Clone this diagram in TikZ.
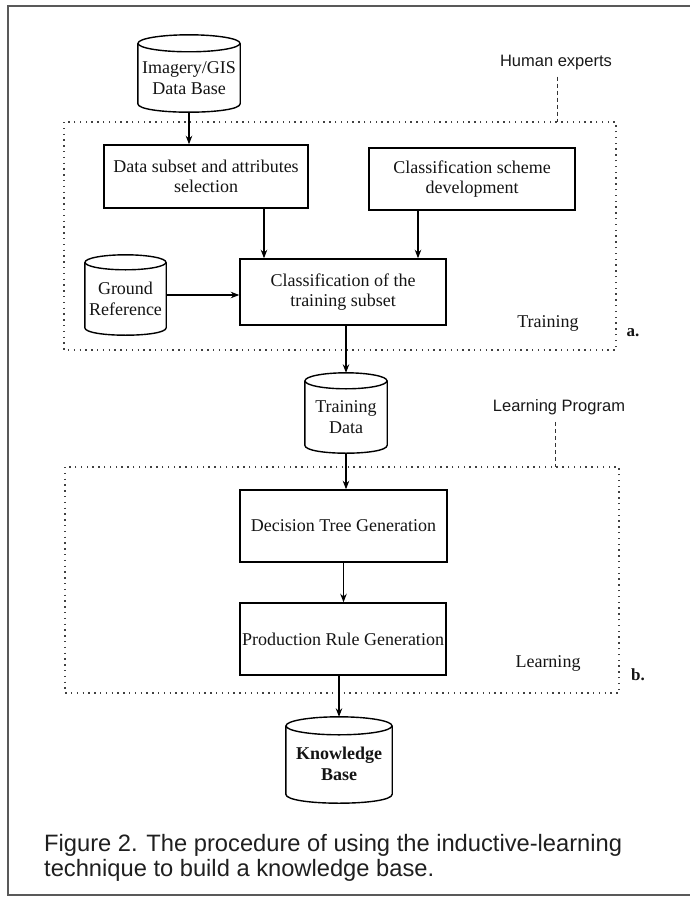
\documentclass[tikz,border=0pt]{standalone}
\usepackage{fontspec}
\setmainfont{Liberation Serif}
\newfontfamily\capfont{Liberation Sans}
\usetikzlibrary{arrows.meta,calc}
\newcommand{\cylout}[3]{% node name, half width, ry
  \draw[cylline] ($(#1.north)+(0,#3)$) ellipse [x radius=#2, y radius=#3];
  \draw[cylline] ($(#1.north west)+(0,#3)$) -- ($(#1.south west)+(0,-#3)$)
    .. controls ($(#1.south west)+(0,#3/3)$) and ($(#1.south east)+(0,#3/3)$) ..
    ($(#1.south east)+(0,-#3)$) -- ($(#1.north east)+(0,#3)$);
}
\begin{document}
\begin{tikzpicture}[x=1pt,y=-1pt,
  serif18/.style={font=\fontsize{18}{20.5}\selectfont, text=black!92},
  procbox/.style={draw, line width=1.5pt, align=center, inner sep=0pt, serif18},
  cylbody/.style={inner sep=0pt},
  cylline/.style={line width=1.4pt},
  cyltext/.style={align=center, inner sep=0pt, serif18},
  arr/.style={-{Stealth[length=8.5pt,width=6.5pt]}, line width=1.1pt},
  dotbox/.style={line width=1.6pt, dash pattern=on 1.4pt off 4.4pt, black!75},
  leader/.style={line width=0.9pt, dash pattern=on 4pt off 3pt, black!80},
  sanslabel/.style={font=\capfont\fontsize{16.5}{19}\selectfont, inner sep=0pt, text=black!90},
  sidelabel/.style={serif18, inner sep=0pt},
  frame/.style={line width=1.5pt, black!65}
]
\useasboundingbox (0,0) rectangle (690,899);

% outer frame
\draw[frame] (690,6) -- (8,6) -- (8,895) -- (690,895);

% dotted group boxes
\draw[dotbox] (64,122) rectangle (616,350);
\draw[dotbox] (65,467) rectangle (619,693);
\coordinate (hea) at (557,122);
\coordinate (lpa) at (555,467);

% cylinders
\node[cylbody, minimum width=102, minimum height=77] (img) at (189,73.5) {};
\cylout{img}{51}{8.5}
\node[cyltext] (imgt) at (189,78) {Imagery/GIS\\Data Base};

\node[cylbody, minimum width=81, minimum height=80] (gr) at (125.5,295) {};
\cylout{gr}{40.5}{7.5}
\node[cyltext] (grt) at (125.5,299) {Ground\\Reference};

\node[cylbody, minimum width=82, minimum height=80] (td) at (346,413) {};
\cylout{td}{41}{8}
\node[cyltext] (tdt) at (346,417) {Training\\Data};

\node[cylbody, minimum width=106, minimum height=86] (kb) at (339,760) {};
\cylout{kb}{53}{9}
\node[cyltext, font=\bfseries\fontsize{18}{21}\selectfont] (kbt) at (339,764) {Knowledge\\Base};

% process boxes
\node[procbox, minimum width=204, minimum height=63] (ds) at (206,176.5) {Data subset and attributes\\selection};
\node[procbox, minimum width=206, minimum height=62] (cs) at (472,179) {Classification scheme\\development};
\node[procbox, minimum width=206, minimum height=66] (cls) at (343,292) {Classification of the\\training subset};
\node[procbox, minimum width=207, minimum height=72] (dt) at (343.5,526) {Decision Tree Generation};
\node[procbox, minimum width=206, minimum height=72] (pr) at (343,639) {Production Rule Generation};

% labels
\node[sanslabel] (he) at (556,63) {Human experts};
\node[sanslabel] (lp) at (559,407) {Learning Program};
\node[sidelabel] (trl) at (548,323) {Training};
\node[sidelabel] (lel) at (548,663) {Learning};
\node[sidelabel, font=\bfseries\fontsize{17}{20}\selectfont] (la) at (633,333) {a.};
\node[sidelabel, font=\bfseries\fontsize{17}{20}\selectfont] (lb) at (638,675) {b.};

% leader lines
\draw[leader] (he.south -| hea) ++(0,6) -- (hea);
\draw[leader] (lp.south -| lpa) ++(0,7) -- (lpa);

% connectors
\coordinate (c1) at (264,0);
\coordinate (c2) at (418,0);
\draw[arr] (img.south) -- (img.south |- ds.north);
\draw[arr] (ds.south -| c1) -- (cls.north -| c1);
\draw[arr] (cs.south -| c2) -- (cls.north -| c2);
\draw[arr] (gr.east) -- (gr.east -| cls.west);
\draw[arr] (cls.south -| td.north) -- (td.north);
\draw[arr] (td.south) -- (td.south |- dt.north);
\draw[arr] (dt.south) -- (dt.south |- pr.north);
\draw[arr] (pr.south -| kb.north) -- (kb.north);

% caption
\node[anchor=base west, inner sep=0pt, font=\capfont\fontsize{23.7}{25}\selectfont, text=black!88] (cap1) at (44,851) {Figure 2. The procedure of using the inductive-learning};
\node[anchor=base west, inner sep=0pt, font=\capfont\fontsize{23.7}{25}\selectfont, text=black!88] (cap2) at (44,876) {technique to build a knowledge base.};
\end{tikzpicture}
\end{document}
